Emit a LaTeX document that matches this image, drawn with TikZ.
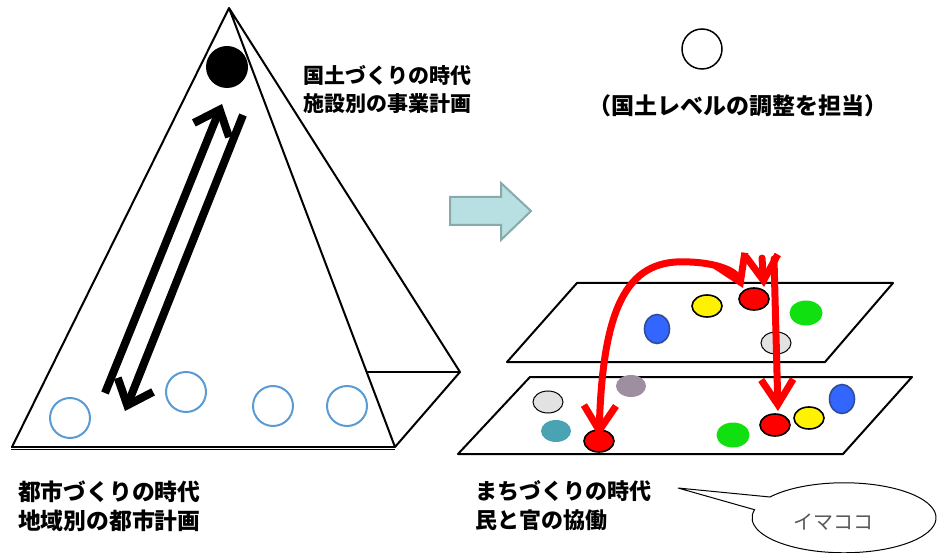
\documentclass[tikz,border=0pt]{standalone}
\usepackage{fontspec}
\newfontfamily\cjk{Noto Sans CJK JP}
\usetikzlibrary{arrows.meta,shapes.geometric}
\definecolor{ringblue}{HTML}{5B9BD5}
\definecolor{arrfill}{HTML}{B8DFE1}
\definecolor{arrdraw}{HTML}{88AAAA}
\definecolor{dotblue}{HTML}{3366FF}
\definecolor{dotblueb}{HTML}{2E4C9A}
\definecolor{dotgreen}{HTML}{10E010}
\definecolor{dotgray}{HTML}{E2E2E2}
\definecolor{dotpurple}{HTML}{9D8FA0}
\definecolor{dotteal}{HTML}{4AA3B2}
\definecolor{labelgray}{HTML}{595959}
\begin{document}
\begin{tikzpicture}[x=1pt,y=-1pt,
  edge/.style={line width=2pt, line join=round},
  ring/.style={circle, draw=ringblue, line width=2pt, minimum size=40pt, inner sep=0pt},
  dot/.style={ellipse, draw=black, line width=1.6pt, minimum width=30pt, minimum height=22pt, inner sep=0pt},
  bigarrow/.style={line width=8pt, -{Straight Barb[length=22pt,width=38pt]}},
  redarrow/.style={draw=red, line width=7pt, line cap=round, -{Straight Barb[length=25pt,width=32pt]}},
  bold/.style={font=\cjk\bfseries\fontsize{21}{28}\selectfont, inner sep=0pt, align=left, anchor=west}
]
\useasboundingbox (0,0) rectangle (937,553);
\clip (0,0) rectangle (937,553);

% pyramid
\coordinate (apex) at (229,8);
\coordinate (bl) at (12,447);
\coordinate (br) at (395,447);
\coordinate (fr) at (460,372);
\coordinate (hid) at (366,372);
\draw[edge] (bl) -- (apex) -- (br) -- (fr) -- (apex);
\draw[edge] (hid) -- (fr);
\draw[line width=1.2pt, double, double distance=1pt] (11,448) -- (395,448);

\node[circle, fill=black, minimum size=42pt, inner sep=0pt] (top) at (227,67) {};

\coordinate (upS) at (105,393);
\coordinate (upE) at (222,104);
\coordinate (dnS) at (243,115);
\coordinate (dnE) at (125,411);
\draw[bigarrow] (upS) -- (upE);
\draw[bigarrow] (dnS) -- (dnE);

\node[ring] (c1) at (70,418) {};
\node[ring] (c2) at (186,392) {};
\node[ring] (c3) at (273,406) {};
\node[ring] (c4) at (347,406) {};

\node[bold] (t1) at (303,89) {国土づくりの時代\\施設別の事業計画};
\node[bold, font=\cjk\bfseries\fontsize{22.8}{29}\selectfont] (t2) at (18,506) {都市づくりの時代\\地域別の都市計画};
\node[bold, font=\cjk\bfseries\fontsize{22}{29}\selectfont] (t3) at (475,506) {まちづくりの時代\\民と官の協働};

% block arrow
\draw[fill=arrfill, draw=arrdraw, line width=2pt, line join=miter]
  (450,197) -- (501,197) -- (501,183) -- (531,211) -- (501,240) -- (501,225) -- (450,225) -- cycle;

% national level
\node[circle, draw=black, line width=1.5pt, fill=white, minimum size=40pt, inner sep=0pt] (nat) at (702,49) {};
\node[font=\cjk\bfseries\fontsize{23}{28}\selectfont, inner sep=0pt] (t4) at (738,106) {（国土レベルの調整を担当）};

% planes
\draw[edge] (577,283) -- (893,283) -- (825,362) -- (507,362) -- cycle;
\draw[edge] (530,377) -- (912,377) -- (843,454) -- (458,454) -- cycle;

% upper plane dots
\node[dot, fill=dotblue, draw=dotblueb, minimum width=25pt, minimum height=29pt] (ub) at (657,329) {};
\node[dot, fill=yellow] (uy) at (707,306) {};
\node[dot, fill=red] (ur) at (754,299) {};
\node[dot, fill=dotgreen, draw=none, minimum width=33pt, minimum height=25pt] (ug) at (806,313) {};
\node[dot, fill=dotgray, line width=1pt] (uw) at (776,343) {};

% lower plane dots
\node[dot, fill=dotgray, line width=1pt] (lw) at (548,402) {};
\node[dot, fill=dotpurple, draw=none] (lp) at (631,386) {};
\node[dot, fill=dotteal, draw=none] (lt) at (556,431) {};
\node[dot, fill=red] (lr1) at (599,441) {};
\node[dot, fill=dotgreen, draw=none, minimum width=33pt, minimum height=25pt] (lg) at (733,435) {};
\node[dot, fill=red] (lr2) at (775,425) {};
\node[dot, fill=yellow] (ly) at (809,418) {};
\node[dot, fill=dotblue, draw=dotblueb, minimum width=25pt, minimum height=29pt] (lb) at (842,399) {};

% red arrows
\coordinate (a1) at (743,288);
\coordinate (a2) at (599,437);
\draw[redarrow, {Straight Barb[length=25pt,width=32pt]}-{Straight Barb[length=25pt,width=32pt]}]
  (a2) .. controls (603,300) and (630,258) .. (690,262) .. controls (715,263) and (735,270) .. (a1);
\coordinate (b1) at (762,258);
\coordinate (b2) at (764,287);
\draw[redarrow] (b1) -- (b2);
\coordinate (v1) at (774,259);
\coordinate (v2) at (778,411);
\draw[redarrow] (v1) -- (v2);

% callout
\coordinate (tip) at (678,488);
\draw[line width=1pt, fill=white] (tip) -- (770,497)
  arc[start angle=216.4, end angle=553.3, x radius=92, y radius=35] -- cycle;
\node[font=\cjk\fontsize{20}{24}\selectfont, text=labelgray, inner sep=0pt] (here) at (833,522) {イマココ};
\end{tikzpicture}
\end{document}
